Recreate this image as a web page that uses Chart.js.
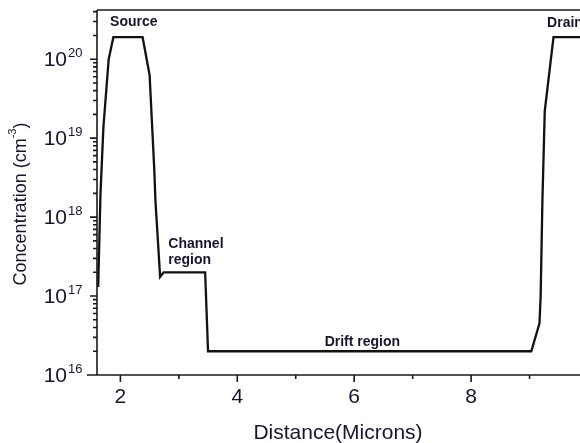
<!DOCTYPE html>
<html>
<head>
<meta charset="utf-8">
<script src="https://cdn.jsdelivr.net/npm/chart.js@4/dist/chart.umd.min.js"></script>
<style>
  html, body { margin: 0; padding: 0; background: #fff; overflow: hidden; }
  #wrap { width: 580px; height: 443px; overflow: hidden; position: relative; }
  #plot { display: block; }
</style>
</head>
<body>
<div id="wrap"><canvas id="plot" width="600" height="443"></canvas></div>
<script>
// doping profile
const distance = [1.62, 1.66, 1.71, 1.80, 1.88, 2.38, 2.50, 2.58, 2.60, 2.68, 2.74, 3.45, 3.50, 9.03, 9.17, 9.19, 9.22, 9.26, 9.41, 10.0];
const concentration = [1.3e17, 2e18, 1.4e19, 1e20, 1.9e20, 1.9e20, 6.3e19, 4e18, 1.6e18, 1.75e17, 2e17, 2e17, 2e16, 2e16, 4.5e16, 1e17, 1.6e18, 2.2e19, 1.9e20, 1.9e20];

const xTicks = [2, 4, 6, 8];
const xMinorTicks = [3, 5, 7, 9];
const yDecades = [16, 17, 18, 19, 20];

// region labels, placed in data coordinates
const notes = [
  { text: 'Source', x: 2.23, y: 10 ** 20.47, align: 'center' },
  { text: 'Channel', x: 2.82, y: 10 ** 17.66, align: 'left' },
  { text: 'region', x: 2.82, y: 10 ** 17.45, align: 'left' },
  { text: 'Drift region', x: 6.14, y: 10 ** 16.42, align: 'center' },
  { text: 'Drain', x: 9.30, y: 10 ** 20.46, align: 'left' }
];

const ink = '#15162e';
const axisInk = '#1a1a1a';
const FONT = '"Liberation Sans", Arial, sans-serif';

const axesPlugin = {
  id: 'originAxes',
  afterDraw(chart) {
    const ctx = chart.ctx;
    const xs = chart.scales.x, ys = chart.scales.y;
    const a = chart.chartArea;
    ctx.save();
    ctx.strokeStyle = axisInk;
    ctx.lineWidth = 1.6;
    ctx.beginPath();
    // frame: left, bottom, top, right
    ctx.moveTo(a.left, a.top); ctx.lineTo(a.left, a.bottom);
    ctx.moveTo(a.left - 10, a.bottom); ctx.lineTo(a.right, a.bottom);
    ctx.moveTo(a.left, a.top); ctx.lineTo(a.right, a.top);
    ctx.moveTo(a.right, a.top); ctx.lineTo(a.right, a.bottom);
    // x ticks
    xTicks.forEach(v => { const p = xs.getPixelForValue(v); ctx.moveTo(p, a.bottom); ctx.lineTo(p, a.bottom + 7); });
    xMinorTicks.forEach(v => { const p = xs.getPixelForValue(v); ctx.moveTo(p, a.bottom); ctx.lineTo(p, a.bottom + 4); });
    // y ticks
    yDecades.forEach(e => {
      for (let m = 1; m <= 9; m++) {
        const v = m * 10 ** e;
        if (v < ys.min || v > ys.max) continue;
        const p = ys.getPixelForValue(v);
        ctx.moveTo(a.left, p); ctx.lineTo(a.left - (m === 1 ? 7 : 4), p);
      }
    });
    ctx.stroke();

    ctx.fillStyle = ink;
    // x tick labels
    ctx.font = '21px ' + FONT;
    ctx.textAlign = 'center';
    ctx.textBaseline = 'middle';
    xTicks.forEach(v => ctx.fillText(String(v), xs.getPixelForValue(v), a.bottom + 22));
    // y tick labels: 10 with superscript exponent
    yDecades.forEach(e => {
      const p = ys.getPixelForValue(10 ** e);
      ctx.font = '21px ' + FONT;
      ctx.textAlign = 'right';
      ctx.textBaseline = 'alphabetic';
      ctx.fillText('10', 67, p + 7);
      ctx.font = '13px ' + FONT;
      ctx.textAlign = 'left';
      ctx.fillText(String(e), 68, p - 2);
    });
    // x title
    ctx.font = '21px ' + FONT;
    ctx.textAlign = 'center';
    ctx.textBaseline = 'middle';
    ctx.fillText('Distance(Microns)', 338, 433);
    // y title with superscript
    ctx.save();
    ctx.translate(21, 204);
    ctx.rotate(-Math.PI / 2);
    ctx.font = '18px ' + FONT;
    const t1 = 'Concentration (cm', t2 = '-3', t3 = ')';
    const w1 = ctx.measureText(t1).width;
    ctx.font = '11px ' + FONT;
    const w2 = ctx.measureText(t2).width;
    ctx.font = '18px ' + FONT;
    const w3 = ctx.measureText(t3).width;
    let sx = -(w1 + w2 + w3) / 2;
    ctx.textAlign = 'left';
    ctx.textBaseline = 'middle';
    ctx.fillText(t1, sx, 0);
    ctx.font = '11px ' + FONT;
    ctx.fillText(t2, sx + w1, -8);
    ctx.font = '18px ' + FONT;
    ctx.fillText(t3, sx + w1 + w2, 0);
    ctx.restore();

    // region notes
    ctx.font = 'bold 14px ' + FONT;
    ctx.textBaseline = 'middle';
    notes.forEach(n => {
      ctx.textAlign = n.align;
      ctx.fillText(n.text, xs.getPixelForValue(n.x), ys.getPixelForValue(n.y));
    });
    ctx.restore();
  }
};

new Chart(document.getElementById('plot'), {
  type: 'line',
  data: {
    datasets: [{
      data: distance.map((d, i) => ({ x: d, y: concentration[i] })),
      borderColor: '#111',
      borderWidth: 2.3,
      pointRadius: 0,
      tension: 0,
      fill: false
    }]
  },
  options: {
    responsive: false,
    animation: false,
    layout: { padding: { left: 0, right: 12, top: 10, bottom: 0 } },
    plugins: { legend: { display: false }, tooltip: { enabled: false } },
    scales: {
      x: {
        type: 'linear', min: 1.6, max: 10,
        grid: { display: false }, border: { display: false },
        ticks: { display: false },
        afterFit(s) { s.height = 68; }
      },
      y: {
        type: 'logarithmic', min: 1e16, max: 4.2e20,
        grid: { display: false }, border: { display: false },
        ticks: { display: false },
        afterFit(s) { s.width = 97; }
      }
    }
  },
  plugins: [axesPlugin]
});
</script>
</body>
</html>
